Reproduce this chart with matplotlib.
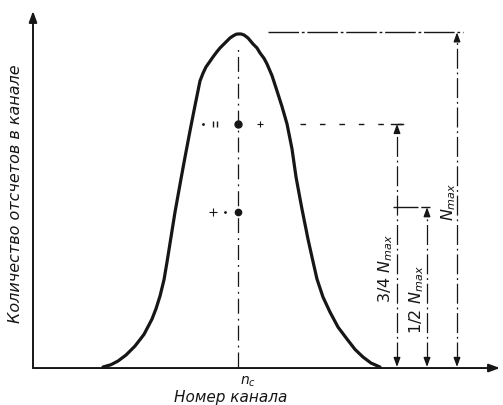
import matplotlib
matplotlib.use("Agg")
import matplotlib.pyplot as plt

# === Data: counts per channel (N_max normalised to ~100) ===
channel = [70, 78, 85, 93, 102, 111, 119, 123, 127, 131, 134, 138, 142, 148, 152, 157,
           162, 167, 170, 173, 177, 180, 184, 187, 191, 194, 197, 200, 203, 205, 208,
           211, 215, 220, 224, 227, 231, 234, 239, 244, 249, 254, 259, 263, 266, 269,
           275, 279, 284, 290, 297, 305, 314, 322, 330, 338, 347]
counts = [0, 0.7, 1.8, 3.6, 6.3, 9.8, 14.4, 17.5, 21.3, 26.2, 31.5, 39.0, 46.5, 56.5, 63.0, 70.9,
          78.5, 85.9, 88.2, 90.1, 91.8, 93.1, 94.7, 95.8, 97.0, 97.9, 98.8, 99.4, 99.9, 100, 100,
          99.7, 98.8, 97.0, 95.8, 94.3, 92.7, 91.0, 87.5, 82.9, 78.2, 73.0, 65.5, 57.1, 52.2, 47.4,
          38.4, 33.0, 26.4, 21.0, 16.5, 12.0, 8.4, 5.3, 3.0, 1.2, 0]

n_c = 205          # centre channel
n_max = 100.5      # level of the N_max reference line
level_34 = 73      # 3/4 N_max level as drawn
level_12 = 48      # 1/2 N_max level as drawn

# dimension lines (channel position of each vertical arrow)
dim_x = {"34": 364, "12": 394, "max": 424}

INK = "#161616"

fig = plt.figure(figsize=(5.03, 4.06), dpi=100)
ax = fig.add_axes([0, 0, 1, 1])
ax.set_xlim(-33, 470)
ax.set_ylim(-11.4, 110.5)
ax.axis("off")

def arrow(tip, tail, lw=1.0, scale=9):
    ax.annotate("", xy=tip, xytext=tail,
                arrowprops=dict(arrowstyle="-|>,head_length=0.6,head_width=0.22",
                                color=INK, lw=lw, shrinkA=0, shrinkB=0,
                                mutation_scale=scale))

# === Axes with arrows ===
arrow((0, 106.9), (0, -0.3), lw=1.4, scale=11)
arrow((467, -0.3), (0, -0.3), lw=1.4, scale=11)

# === Peak curve ===
ax.plot(channel, counts, color=INK, lw=2.3, solid_joinstyle="round", solid_capstyle="round")

# === Centre line and markers ===
ax.plot([n_c, n_c], [0, 96], color=INK, lw=0.9, dashes=(12, 4, 1.5, 4))
ax.plot([n_c], [level_34], "o", color=INK, ms=5)
ax.plot([n_c], [level_12 - 1.5], "o", color=INK, ms=4.5)
ax.plot([180, 184], [level_34, level_34], "|", color=INK, ms=5, mew=1.0)
ax.plot([227], [level_34], "+", color=INK, ms=5, mew=0.8)
ax.plot([180], [level_12 - 1.5], "+", color=INK, ms=6, mew=0.8)
ax.plot([170, 192], [level_34, level_12 - 1.5], ".", color=INK, ms=2)

# === Reference levels ===
ax.plot([235, 430], [n_max, n_max], color=INK, lw=1.0, dashes=(22, 2, 2, 2))
ax.plot([267, 369], [level_34, level_34], color=INK, lw=1.0, dashes=(4, 10))
ax.plot([358, 370], [level_34, level_34], color=INK, lw=1.0)
ax.plot([360, 397], [level_12, level_12], color=INK, lw=1.0, dashes=(18, 2))

# === Vertical dimension lines ===
for key, top in (("34", level_34), ("12", level_12), ("max", n_max)):
    x = dim_x[key]
    ax.plot([x, x], [1.5, top - 1.5], color=INK, lw=0.9, dashes=(16, 3, 1.5, 3))
    arrow((x, top), (x, top - 2.5))
    arrow((x, 0), (x, 2.5))

# === Labels ===
ax.text(-17, 52.3, "Количество отсчетов в канале", rotation=90, ha="center", va="center",
        style="italic", fontsize=11.5, color=INK)
ax.text(198, -8.7, "Номер канала", ha="center", va="center", style="italic",
        fontsize=11, color=INK)
ax.text(215, -4.2, r"$n_c$", ha="center", va="center", fontsize=10, color=INK)
ax.text(353, 30, r"$3/4\ N_{max}$", rotation=90, ha="center", va="center",
        fontsize=11.5, color=INK)
ax.text(384, 20.4, r"$1/2\ N_{max}$", rotation=90, ha="center", va="center",
        fontsize=11.5, color=INK)
ax.text(416, 49.8, r"$N_{max}$", rotation=90, ha="center", va="center",
        fontsize=11.5, color=INK)

fig.savefig("out.png", dpi=100, facecolor="white")
